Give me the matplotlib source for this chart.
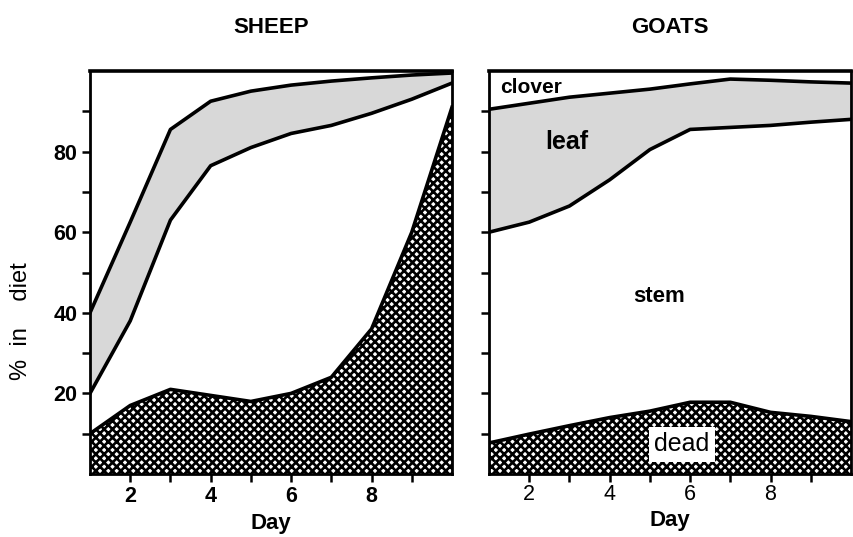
import numpy as np
import matplotlib
matplotlib.use("Agg")
import matplotlib.pyplot as plt

plt.rcParams['font.family'] = ['Liberation Sans', 'DejaVu Sans']
plt.rcParams['hatch.linewidth'] = 1.9

days = [1, 2, 3, 4, 5, 6, 7, 8, 9, 10]

# Sheep: cumulative upper boundaries (% in diet)
sheep_dead = [10, 17, 21, 19.5, 18, 20, 24, 36, 60, 91]
sheep_dead_stem = [20, 38, 63, 76.5, 81, 84.5, 86.5, 89.5, 93, 97]
sheep_dead_stem_leaf = [40, 62.5, 85.5, 92.5, 95, 96.5, 97.5, 98.3, 99, 99.5]

# Goats: cumulative upper boundaries (% in diet)
goat_dead = [7.7, 9.9, 12, 14, 15.6, 17.8, 17.8, 15.3, 14.3, 13]
goat_dead_stem = [60, 62.5, 66.5, 73, 80.5, 85.5, 86, 86.5, 87.3, 88]
goat_dead_stem_leaf = [90.5, 92, 93.5, 94.5, 95.5, 96.8, 98, 97.7, 97.3, 97]

titles = ["SHEEP", "GOATS"]
y_ticks = [20, 40, 60, 80]
x_ticks = [2, 4, 6, 8]

W, H = 854, 537
fig = plt.figure(figsize=(W / 100, H / 100), dpi=100)
ax1 = fig.add_axes([90 / W, 1 - 474 / H, 362 / W, 403 / H])
ax2 = fig.add_axes([489 / W, 1 - 474 / H, 362 / W, 403 / H])

LW = 2.6
for ax, dead, stem, leaf in [(ax1, sheep_dead, sheep_dead_stem, sheep_dead_stem_leaf),
                             (ax2, goat_dead, goat_dead_stem, goat_dead_stem_leaf)]:
    ax.fill_between(days, 0, dead, facecolor='white', edgecolor='black',
                    hatch='xxxx', linewidth=0)
    ax.fill_between(days, stem, leaf, facecolor='#d8d8d8', linewidth=0)
    ax.plot(days, dead, color='black', lw=LW)
    ax.plot(days, stem, color='black', lw=LW)
    ax.plot(days, leaf, color='black', lw=LW)
    ax.set_xlim(1, 10)
    ax.set_ylim(0, 100)
    ax.xaxis.set_major_locator(plt.FixedLocator(x_ticks))
    ax.xaxis.set_minor_locator(plt.FixedLocator([3, 5, 7, 9]))
    ax.yaxis.set_major_locator(plt.FixedLocator(y_ticks))
    ax.yaxis.set_minor_locator(plt.FixedLocator([10, 30, 50, 70, 90]))
    ax.tick_params(which='both', direction='out', length=6, width=1.8)
    for s in ax.spines.values():
        s.set_linewidth(2.0)
    ax.spines['top'].set_linewidth(2.6)
    ax.set_xlabel("Day", fontsize=16, fontweight='bold', labelpad=4)

ax1.set_title(titles[0], fontsize=16, fontweight='bold', pad=27)
ax2.set_title(titles[1], fontsize=16, fontweight='bold', pad=27)

ax1.tick_params(axis='both', which='major', labelsize=15.5, pad=3)
for lab in ax1.get_xticklabels() + ax1.get_yticklabels():
    lab.set_fontweight('bold')
ax1.set_ylabel("%  in    diet", fontsize=17)
ax1.yaxis.set_label_coords(-0.16, 0.38)

ax2.tick_params(axis='y', which='both', labelleft=False)
ax2.tick_params(axis='x', which='major', labelsize=15.5, pad=1)
for lab in ax2.get_xticklabels():
    lab.set_family(['Liberation Sans Narrow', 'Liberation Sans'])

ax2.text(2.04, 95.8, "clover", fontsize=15, fontweight='bold', ha='center', va='center')
ax2.text(2.94, 82.4, "leaf", fontsize=18, fontweight='bold', ha='center', va='center')
ax2.text(5.22, 44, "stem", fontsize=16, fontweight='bold', ha='center', va='center')
ax2.text(5.79, 7.4, "dead", fontsize=18, ha='center', va='center',
         bbox=dict(facecolor='white', edgecolor='none', pad=4))

fig.savefig("out.png", dpi=100)
